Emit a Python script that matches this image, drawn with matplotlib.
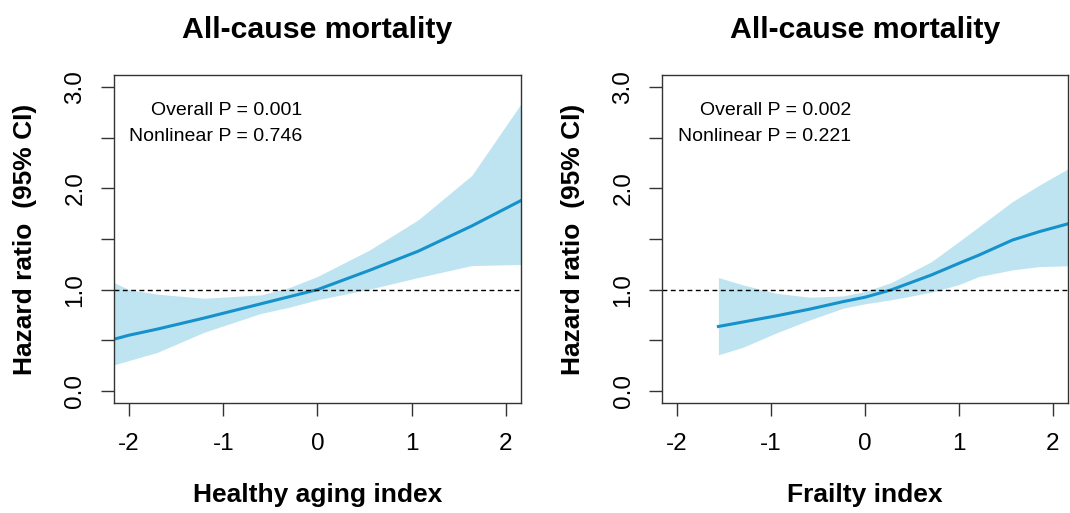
import matplotlib
matplotlib.use("Agg")
import matplotlib.pyplot as plt

plt.rcParams['font.family'] = ['Liberation Sans', 'DejaVu Sans']

# panel 1: healthy aging index
hai_x = [-2.16, -2.0, -1.7, -1.2, -0.6, -0.3, 0.0, 0.55, 1.07, 1.64, 2.16]
hai_hr = [0.51, 0.55, 0.61, 0.72, 0.86, 0.93, 1.00, 1.19, 1.38, 1.63, 1.88]
hai_upper = [1.07, 1.00, 0.955, 0.915, 0.948, 1.02, 1.13, 1.39, 1.69, 2.13, 2.835]
hai_lower = [0.257, 0.30, 0.38, 0.58, 0.765, 0.826, 0.90, 1.004, 1.12, 1.238, 1.248]

# panel 2: frailty index
fi_x = [-1.56, -1.3, -0.95, -0.59, -0.23, 0.0, 0.28, 0.71, 1.0, 1.21, 1.57, 1.86, 2.16]
fi_hr = [0.636, 0.68, 0.74, 0.807, 0.882, 0.925, 0.998, 1.146, 1.26, 1.34, 1.49, 1.574, 1.65]
fi_upper = [1.12, 1.047, 0.965, 0.925, 0.938, 0.981, 1.07, 1.278, 1.475, 1.62, 1.87, 2.035, 2.193]
fi_lower = [0.356, 0.43, 0.57, 0.70, 0.817, 0.86, 0.90, 0.975, 1.05, 1.129, 1.195, 1.228, 1.235]

titles = ["All-cause mortality", "All-cause mortality"]
xlabels = ["Healthy aging index", "Frailty index"]
overall_p = ["Overall P = 0.001", "Overall P = 0.002"]
nonlin_p = ["Nonlinear P = 0.746", "Nonlinear P = 0.221"]

xticks = [-2, -1, 0, 1, 2]
yticks = [0, 0.5, 1.0, 1.5, 2.0, 2.5, 3.0]
ytick_labels = ["0.0", "", "1.0", "", "2.0", "", "3.0"]

line_col = '#1591cc'
band_col = '#bee4f1'
edge_col = '#333333'

fig = plt.figure(figsize=(10.7, 5.13), dpi=100)
ax1 = fig.add_axes([0.1065, 0.2144, 0.3804, 0.6394])
ax2 = fig.add_axes([0.6187, 0.2144, 0.3794, 0.6394])

panels = [
    (ax1, hai_x, hai_hr, hai_lower, hai_upper, 0.462),
    (ax2, fi_x, fi_hr, fi_lower, fi_upper, 0.466),
]

for i, (ax, x, hr, lo, up, txt_x) in enumerate(panels):
    ax.fill_between(x, lo, up, color=band_col, linewidth=0)
    ax.plot(x, hr, color=line_col, linewidth=2.2)
    ax.axhline(1.0, color='black', linewidth=1.0, linestyle=(0, (3.5, 2.5)))

    ax.set_xlim(-2.16, 2.16)
    ax.set_ylim(-0.12, 3.12)
    ax.set_xticks(xticks)
    ax.set_xticklabels([str(t) for t in xticks], fontsize=17.5)
    ax.set_yticks(yticks)
    ax.set_yticklabels(ytick_labels, fontsize=17.5, rotation=90, va='center')
    ax.tick_params(axis='x', length=9.3, width=1.0, color=edge_col, pad=12)
    ax.tick_params(axis='y', length=9.3, width=1.0, color=edge_col, pad=10.5)
    for s in ax.spines.values():
        s.set_linewidth(1.0)
        s.set_color(edge_col)

    ax.set_title(titles[i], fontsize=21.8, fontweight='bold', pad=27)
    ax.set_xlabel(xlabels[i], fontsize=19, fontweight='bold')
    ax.xaxis.set_label_coords(0.5, -0.245)
    ax.set_ylabel("Hazard ratio  (95% CI)", fontsize=19, fontweight='bold')
    ax.yaxis.set_label_coords(-0.19, 0.5)

    ax.text(txt_x, 0.878, overall_p[i], transform=ax.transAxes,
            ha='right', va='baseline', fontsize=14)
    ax.text(txt_x, 0.80, nonlin_p[i], transform=ax.transAxes,
            ha='right', va='baseline', fontsize=14)

fig.savefig("out.png", dpi=100)
